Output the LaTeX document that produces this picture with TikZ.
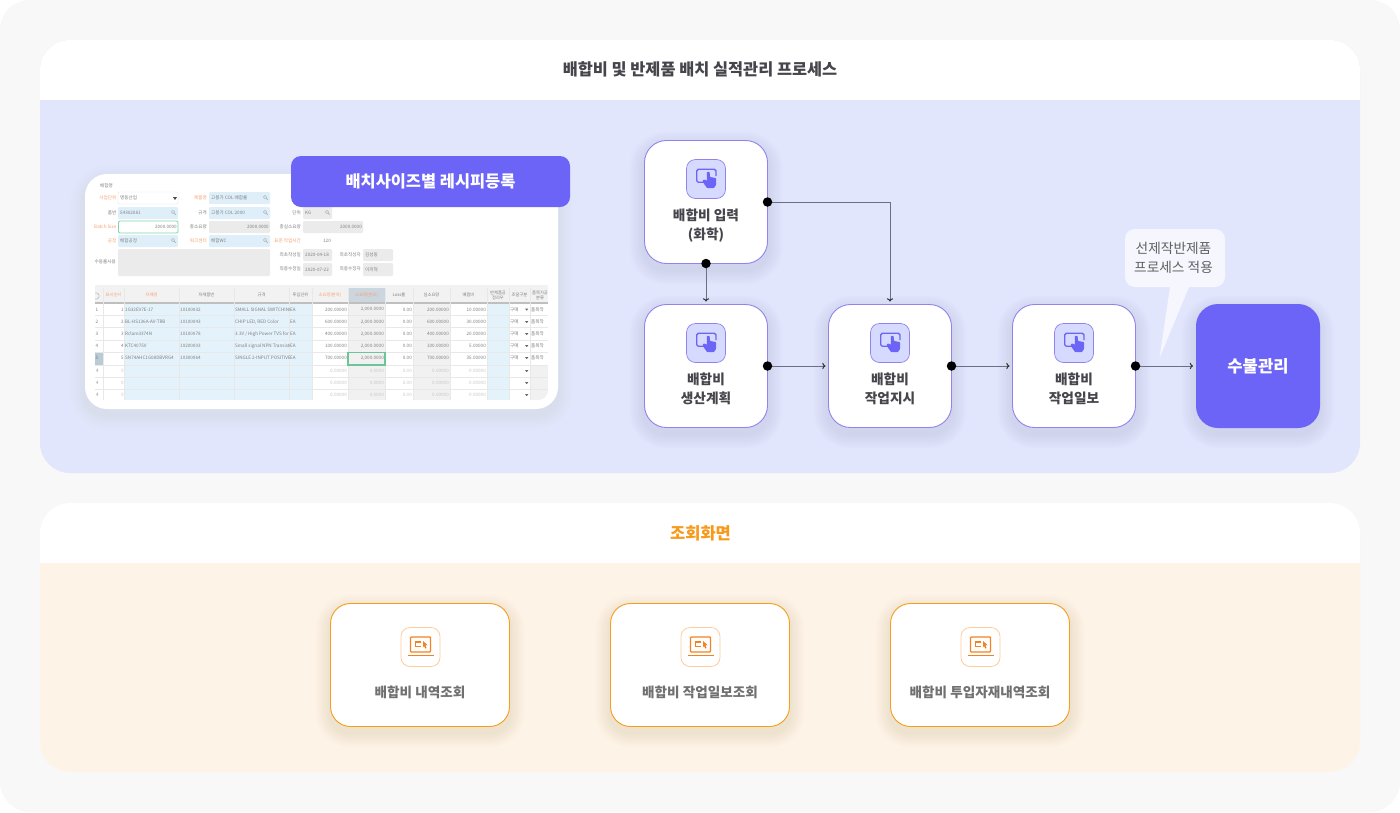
\documentclass[tikz,border=0pt]{standalone}
\usepackage{fontspec}
\setmainfont{Noto Sans CJK KR}
\usetikzlibrary{arrows.meta,calc}
\definecolor{pagebg}{HTML}{F8F8F9}
\definecolor{bluebg}{HTML}{E1E6FD}
\definecolor{orangebg}{HTML}{FEF3E7}
\definecolor{vio}{HTML}{6C63F7}
\definecolor{vioedge}{HTML}{8F83EC}
\definecolor{tilefill}{HTML}{D6DAFE}
\definecolor{amber}{HTML}{F79C1D}
\definecolor{amberdk}{HTML}{F58220}
\definecolor{amberlt}{HTML}{FDCDA0}
\definecolor{titleink}{HTML}{45454C}
\definecolor{lineink}{HTML}{6E6E82}
\definecolor{fieldblue}{HTML}{DEEFFA}
\definecolor{fieldgrey}{HTML}{EBEBEB}
\definecolor{formink}{HTML}{808080}
\definecolor{formorange}{HTML}{F8A070}
\definecolor{okgreen}{HTML}{7FD6A8}
\definecolor{selgreen}{HTML}{6CC596}
\definecolor{headsel}{HTML}{CBD6DE}
\definecolor{rowsel}{HTML}{B9CBD5}
\newcommand{\fs}[1]{\fontsize{#1}{22}\selectfont}
\tikzset{
  x=1pt,y=-1pt,
  flowbox/.style={draw=vioedge,fill=white,line width=.9pt,rounded corners=22pt,minimum width=123pt,minimum height=123pt,inner sep=0pt,outer sep=0pt},
  endbox/.style={fill=vio,rounded corners=22pt,minimum width=124pt,minimum height=124pt,inner sep=0pt,outer sep=0pt,text=white,font=\fs{16.6}\bfseries},
  viewbox/.style={draw=amber,fill=white,line width=.9pt,rounded corners=20pt,minimum width=179pt,minimum height=123pt,inner sep=0pt,outer sep=0pt},
  flowlabel/.style={inner sep=0pt,align=center,text=titleink,font=\fontsize{13.7}{19}\selectfont\bfseries},
  viewlabel/.style={inner sep=0pt,text=black!56,font=\fs{13.6}\bfseries},
  toucht/.style={draw=vioedge,fill=tilefill,line width=.7pt,rounded corners=9pt,minimum width=39pt,minimum height=39pt,inner sep=0pt},
  lapt/.style={draw=amberlt,fill=white,line width=.8pt,rounded corners=9pt,minimum width=39pt,minimum height=39pt,inner sep=0pt},
  conn/.style={draw=lineink,line width=1pt},
  tipped/.style={conn,-{To[length=3.2pt,width=6.5pt,color=black!80]}},
  dotp/.style={circle,fill=black,minimum size=9.5pt,inner sep=0pt,outer sep=0pt},
  ftext/.style={inner sep=0pt,text=formink,font=\fontsize{4.6}{5}\selectfont},
  flab/.style={inner sep=0pt,anchor=east,text=formink,font=\fontsize{4.6}{5}\selectfont},
  folab/.style={flab,text=formorange},
  thtext/.style={inner sep=0pt,text=formink,font=\fontsize{4.3}{5}\selectfont,align=center},
  ththot/.style={thtext,text=formorange},
  tdl/.style={inner sep=0pt,anchor=west,text=formink,font=\fontsize{4.6}{5}\selectfont},
  tdr/.style={inner sep=0pt,anchor=east,text=formink,font=\fontsize{4.6}{5}\selectfont},
  tdf/.style={tdr,text=black!22},
}
% soft shadow under a rounded box
\newcommand{\softshadow}[6]{%
  \foreach \k in {1,2,...,8}{%
    \fill[#6,opacity=.011,rounded corners=#5pt+\k*1.8pt]
      (#1-\k*1.8,#2-\k*1.8+6) rectangle (#3+\k*1.8,#4+\k*1.8+6);}}
\newcommand{\fld}[6]{\path[fill=#5,rounded corners=1.2pt] (#1,#2) rectangle (#3,#4);
  \node[ftext,anchor=west] at (#1+2,#2/2+#4/2) {#6};}
\newcommand{\fldr}[6]{\path[fill=#5,rounded corners=1.2pt] (#1,#2) rectangle (#3,#4);
  \node[ftext,anchor=east] at (#3-1,#2/2+#4/2) {#6};}
\newcommand{\lensmark}[2]{\draw[black!35,line width=.4pt] (#1,#2) circle (1.7pt) (#1+1.2,#2+1.2) -- (#1+2.8,#2+2.8);}
\newcommand{\downmark}[1]{\fill[black!60] (525,#1-1) -- (528.4,#1-1) -- (526.7,#1+1.2) -- cycle;}
\newcommand{\trow}[9]{%
  \node[tdl] at (95.5,#1) {#2};
  \node[tdr] at (124,#1) {#2};
  \node[tdl] at (125,#1) {#3};
  \node[tdl] at (180,#1) {#4};
  \begin{scope}
    \clip (234,#1-5) rectangle (289,#1+5);
    \node[tdl] at (235,#1) {#5};
  \end{scope}
  \node[tdl] at (290,#1) {EA};
  \node[tdr] at (347,#1) {#6};
  \node[tdr] at (384,#1) {2,000.0000};
  \node[tdr] at (412,#1) {0.00};
  \node[tdr] at (449,#1) {#7};
  \node[tdr] at (486,#1) {#8};
  \node[tdl] at (510,#1) {구매};
  \downmark{#1}
  \node[tdl] at (531,#1) {품목착};
}
\newcommand{\tblank}[1]{%
  \node[tdl,text=black!40] at (96,#1) {4};
  \node[tdf] at (124,#1) {0};
  \node[tdf] at (347,#1) {0.00000};
  \node[tdf] at (384,#1) {0.0000};
  \node[tdf] at (412,#1) {0.00};
  \node[tdf] at (449,#1) {0.00000};
  \node[tdf] at (486,#1) {0.00000};
  \downmark{#1}
}
\tikzset{
  touchicon/.pic={
    \draw[vio,line width=1.3pt,rounded corners=1.6pt] (-1.5,3.3) -- (-9.3,3.3) -- (-9.3,-9.7) -- (10,-9.7) -- (10,-3);
    \fill[vio,rounded corners=.7pt] (-3.2,1) -- (-1,.5) -- (.8,2) -- (.8,-7.2) -- (3.6,-7.2) -- (4,-2) -- (10,-1) -- (10,6) -- (8,9) -- (1,9) -- (-3.2,3) -- cycle;
  },
  lapicon/.pic={
    \draw[amberdk,line width=1.2pt,rounded corners=.8pt] (-10,-10) rectangle (10,5);
    \draw[amberdk,line width=1.2pt] (-13,8.5) -- (13,8.5);
    \draw[amberdk,line width=1.1pt] (0,-5) -- (-5,-5) -- (-5,-.5) -- (0,-.5);
    \fill[amberdk] (2.5,-6) -- (7,-2) -- (5,-1.6) -- (6,1) -- (4.6,1.5) -- (3.6,-1) -- (2.5,0.3) -- cycle;
  },
}
\begin{document}
\begin{tikzpicture}
\useasboundingbox (0,0) rectangle (1400,812);
\fill[white] (0,0) rectangle (1400,812);
\fill[pagebg,rounded corners=30pt] (0,0) rectangle (1400,812);
% --- panel 1
\fill[bluebg,rounded corners=30pt] (40,40) rectangle (1360,473);
\begin{scope}
  \clip[rounded corners=30pt] (40,40) rectangle (1360,473);
  \fill[white] (40,40) rectangle (1360,100);
\end{scope}
\node[inner sep=0pt,text=titleink,font=\fs{16.35}\bfseries] (title1) at (700,69.5) {배합비 및 반제품 배치 실적관리 프로세스};
% --- panel 2
\fill[orangebg,rounded corners=30pt] (40,503) rectangle (1360,772);
\begin{scope}
  \clip[rounded corners=30pt] (40,503) rectangle (1360,772);
  \fill[white] (40,503) rectangle (1360,563);
\end{scope}
\node[inner sep=0pt,text=amber!90!orange,font=\fs{16.5}\bfseries] (title2) at (700.5,533) {조회화면};
% --- screenshot card
\softshadow{85}{174}{558}{409}{22}{black!40}
\fill[white,rounded corners=22pt] (85,174) rectangle (558,409);
\node[flab] at (113,186) {배합명};
% form rows
\node[folab] at (116.5,198) {사업단위};
\fld{118}{192}{178}{204}{white}{명동산업}
\draw[black!12,line width=.3pt,rounded corners=1.2pt] (118,192) rectangle (178,204);
\fill[black!70] (173,197) -- (177,197) -- (175,200) -- cycle;
\node[folab] at (207,198) {제품명};
\fld{209}{192}{270}{204}{fieldblue}{고봉가 COL 배합률}
\lensmark{265}{197}
\node[flab] at (116.5,213) {품번};
\fld{118}{207}{178}{219}{fieldblue}{54302081}
\lensmark{173}{212}
\node[flab] at (207,213) {규격};
\fld{209}{207}{270}{219}{fieldblue}{고봉가 COL 2000}
\lensmark{265}{212}
\node[flab] at (301,213) {단위};
\fld{303}{207}{332}{219}{fieldgrey}{KG}
\lensmark{327}{212}
\node[folab] at (116.5,227) {Batch Size};
\fldr{118}{221}{178}{233}{white}{2000.0000}
\draw[okgreen,line width=.8pt,rounded corners=1.2pt] (118.5,221) rectangle (178,233);
\node[flab] at (207,227) {총소요량};
\fldr{209}{221}{270}{233}{fieldgrey}{2000.0000}
\node[flab] at (301,227) {총실소요량};
\fldr{303}{221}{363}{233}{fieldgrey}{2000.0000}
\node[folab] at (116.5,241) {공정};
\fld{118}{235}{178}{247}{fieldblue}{배합공정}
\lensmark{173}{240}
\node[folab] at (207,241) {워크센터};
\fld{209}{235}{270}{247}{fieldblue}{배합WC}
\lensmark{265}{240}
\node[folab] at (301,241) {표준 작업시간};
\fldr{303}{235}{332}{247}{white}{120}
\node[flab] at (116,262) {수동룰사용};
\path[fill=fieldgrey,rounded corners=1.2pt] (118,249) rectangle (270,276);
\node[flab] at (301,255) {최초작성일};
\fld{303}{249}{332}{261}{fieldgrey}{2020-04-18}
\node[flab] at (361,255) {최초작성자};
\fld{363}{249}{393}{261}{fieldgrey}{김성동}
\node[flab] at (301,269) {최종수정일};
\fld{303}{263}{332}{276}{fieldgrey}{2020-07-22}
\node[flab] at (361,269) {최종수정자};
\fld{363}{263}{393}{276}{fieldgrey}{이끼혁}
% table
\begin{scope}
  \clip (95,285) -- (548,285) -- (548,391) .. controls (548,396) and (543,400) .. (539,400) -- (95,400) -- cycle;
  \fill[black!5] (95,285) rectangle (548,303);
  \fill[fieldblue!80] (124,303) rectangle (312,400);
  \fill[fieldblue!80] (487.5,303) rectangle (509,400);
  \fill[fieldgrey!70] (348,303) rectangle (385,400);
  \fill[fieldgrey!70] (413,303) rectangle (450,400);
  \fill[fieldgrey!70] (530,365) rectangle (548,400);
  \fill[headsel] (348,288) rectangle (385,303);
  \fill[rowsel] (95,352.5) rectangle (103,365);
  \draw[black!25,line width=1.2pt] (95,303) -- (548,303);
  \foreach \yy in {315.5,327.5,340,352.5,365,377,389}{\draw[black!9,line width=.4pt] (95,\yy) -- (548,\yy);}
  \foreach \xx in {103,124,179,234,289,312,348,385,413,450,487.5,509,530}{\draw[black!9,line width=.4pt] (\xx,288) -- (\xx,400);}
  \draw[black!35,line width=.4pt] (96,296) circle (3.2pt);
  \node[ththot] at (113.5,295) {표시순서};
  \node[ththot] at (151.5,295) {자재명};
  \node[thtext] at (206.5,295) {자재품번};
  \node[thtext] at (261.5,295) {규격};
  \node[thtext] at (300.5,295) {투입단위};
  \node[ththot] at (330,295) {소요량(분자)};
  \node[ththot] at (366.5,295) {소요량(분모)};
  \node[thtext] at (399,295) {Loss률};
  \node[thtext] at (431.5,295) {실소요량};
  \node[thtext] at (468.5,295) {배합비};
  \node[thtext] at (498,295) {반제품공\\정라우};
  \node[thtext] at (519.5,295) {조달구분};
  \node[thtext] at (540,295) {품목가공\\분류};
  \trow{309.5}{1}{1G32E97E-17}{10100032}{SMALL SIGNAL SWITCHING}{200.00000}{200.00000}{10.00000}{}
  \trow{322}{2}{BL-HS136A-AV-TRB}{10100043}{CHIP LED, RED Color}{600.00000}{600.00000}{30.00000}{}
  \trow{334}{3}{Rclam3374N}{10100078}{3.3V / High Power TVS for}{400.00000}{400.00000}{20.00000}{}
  \trow{346}{4}{KTC4075V}{10200003}{Small signal NPN Transisto}{100.00000}{100.00000}{5.00000}{}
  \trow{358}{5}{SN74AHC1G08DBVRG4}{10300064}{SINGLE 2-INPUT POSITIVE-}{700.00000}{700.00000}{35.00000}{}
  \tblank{371}
  \tblank{383}
  \tblank{395}
  \draw[selgreen,line width=1.2pt] (348,352.5) rectangle (385,365);
\end{scope}
% purple label
\node[fill=vio,rounded corners=10pt,minimum width=279pt,minimum height=51pt,inner sep=0pt,outer sep=0pt,text=white,font=\fs{16.4}\bfseries] (recipe) at (430.5,181.5) {배치사이즈별 레시피등록};
% --- flow shadows
\softshadow{644}{140}{768}{264}{22}{vio!55!black}
\softshadow{644}{304}{768}{428}{22}{vio!55!black}
\softshadow{828}{304}{952}{428}{22}{vio!55!black}
\softshadow{1012}{304}{1136}{428}{22}{vio!55!black}
\softshadow{1196}{304}{1320}{428}{22}{vio!55!black}
% --- flow boxes
\node[flowbox] (input) at (706,202) {};
\node[flowbox] (plan) at (706,366) {};
\node[flowbox] (order) at (890,366) {};
\node[flowbox] (daily) at (1074,366) {};
\node[endbox] (stock) at (1258,366) {수불관리};
\node[toucht] (icon1) at (706,179) {};
\node[toucht] (icon2) at (706,343) {};
\node[toucht] (icon3) at (890,343) {};
\node[toucht] (icon4) at (1074,343) {};
\pic at (icon1) {touchicon};
\pic at (icon2) {touchicon};
\pic at (icon3) {touchicon};
\pic at (icon4) {touchicon};
\node[flowlabel] (lab1) at (706,225.5) {배합비 입력\\(화학)};
\node[flowlabel] (lab2) at (706,389) {배합비\\생산계획};
\node[flowlabel] (lab3) at (890,389) {배합비\\작업지시};
\node[flowlabel] (lab4) at (1074,389) {배합비\\작업일보};
% --- connectors
\draw[tipped,shorten >=3pt] (input.south) -- (plan.north);
\draw[tipped,shorten >=3pt] (input.east) -| (order.north);
\draw[tipped,shorten >=3pt] (plan.east) -- (order.west);
\draw[tipped,shorten >=3pt] (order.east) -- (daily.west);
\draw[tipped,shorten >=3pt] (daily.east) -- (stock.west);
\node[dotp] (d1) at (input.south) {};
\node[dotp] (d2) at (input.east) {};
\node[dotp] (d3) at (plan.east) {};
\node[dotp] (d4) at (order.east) {};
\node[dotp] (d5) at (daily.east) {};
% --- callout
\fill[white,opacity=.68,rounded corners=10pt] (1125,229) rectangle (1225,287);
\fill[white,opacity=.68] (1170,287) -- (1159.5,358) -- (1189,287) -- cycle;
\node[inner sep=0pt,align=center,text=black!62,font=\fontsize{13.7}{19}\selectfont] (note) at (1173.5,258) {선제작반제품\\프로세스 적용};
% --- view boxes
\softshadow{330}{603}{510}{727}{20}{amber!60!black}
\softshadow{610}{603}{790}{727}{20}{amber!60!black}
\softshadow{890}{603}{1070}{727}{20}{amber!60!black}
\node[viewbox] (v1) at (420,665) {};
\node[viewbox] (v2) at (700,665) {};
\node[viewbox] (v3) at (980,665) {};
\node[lapt] (vi1) at (420.5,647) {};
\node[lapt] (vi2) at (700.5,647) {};
\node[lapt] (vi3) at (980.5,647) {};
\pic at (vi1) {lapicon};
\pic at (vi2) {lapicon};
\pic at (vi3) {lapicon};
\node[viewlabel] (vl1) at (420,692) {배합비 내역조회};
\node[viewlabel] (vl2) at (700,692) {배합비 작업일보조회};
\node[viewlabel] (vl3) at (980,692) {배합비 투입자재내역조회};
\end{tikzpicture}
\end{document}
